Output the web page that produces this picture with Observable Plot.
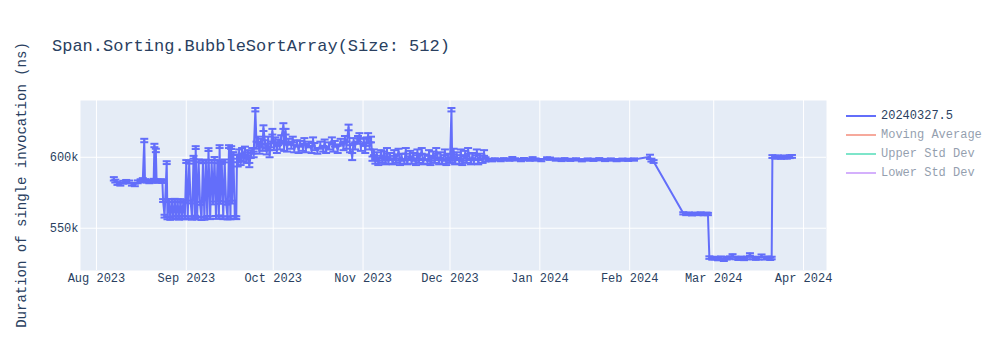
<!DOCTYPE html>
<html>
<head>
<meta charset="utf-8">
<script src="https://cdn.jsdelivr.net/npm/d3@7"></script>
<script src="https://cdn.jsdelivr.net/npm/@observablehq/plot@0.6"></script>
<style>
  body { margin: 0; background: #fff; }
  #wrap { position: relative; width: 1000px; height: 350px; font-family: "Liberation Mono", "DejaVu Sans Mono", monospace; }
  #chart { position: absolute; left: 0; top: 0; }
  #title { position: absolute; left: 52px; top: 38px; font-size: 17px; line-height: 17px; color: #2a3f5f; white-space: pre; }
  #ylabel { position: absolute; left: 22px; top: 185px; transform: translate(-50%, -50%) rotate(-90deg); font-size: 14px; line-height: 14px; color: #2a3f5f; white-space: pre; }
  #legend { position: absolute; left: 846px; top: 106px; font-size: 12px; color: #2a3f5f; }
  .item { display: flex; align-items: center; height: 19px; white-space: pre; }
  .swatch { width: 30px; height: 2px; margin-right: 5px; }
</style>
</head>
<body>
<div id="wrap">
  <div id="chart"></div>
  <div id="title"></div>
  <div id="ylabel"></div>
  <div id="legend"></div>
</div>
<script>
// ---------- data ----------
const chartTitle = "Span.Sorting.BubbleSortArray(Size: 512)";
const yAxisTitle = "Duration of single invocation (ns)";
const legendLabels = ["20240327.5", "Moving Average", "Upper Std Dev", "Lower Std Dev"];
const xTickDates = ["2023-08-01","2023-09-01","2023-10-01","2023-11-01","2023-12-01","2024-01-01","2024-02-01","2024-03-01","2024-04-01"];
const yTickValues = [550000, 600000];

const runDates = [
  // Aug plateau
  "2023-08-07 00","2023-08-07 12","2023-08-08 06","2023-08-09 06","2023-08-10 06","2023-08-11 06","2023-08-12 06","2023-08-13 06","2023-08-14 06","2023-08-15 06",
  "2023-08-16 06","2023-08-17 00","2023-08-17 12","2023-08-17 18","2023-08-18 06","2023-08-19 06","2023-08-20 06","2023-08-20 18","2023-08-21 00","2023-08-21 06",
  "2023-08-21 12","2023-08-21 18","2023-08-22 06","2023-08-23 06","2023-08-23 18",
  // late Aug
  "2023-08-24 00","2023-08-24 12","2023-08-25 06","2023-08-25 12","2023-08-26 00","2023-08-26 12","2023-08-27 00","2023-08-27 12","2023-08-28 00","2023-08-28 12",
  "2023-08-29 00","2023-08-29 12","2023-08-30 00","2023-08-30 12","2023-08-31 00","2023-08-31 12",
  // Sep oscillation
  "2023-09-01 00","2023-09-01 12",
  "2023-09-02 00","2023-09-02 12",
  "2023-09-03 00","2023-09-03 12",
  "2023-09-04 00","2023-09-04 06","2023-09-04 18",
  "2023-09-05 06","2023-09-05 18",
  "2023-09-06 06","2023-09-06 18",
  "2023-09-07 06","2023-09-07 18",
  "2023-09-08 06","2023-09-08 16",
  "2023-09-09 06","2023-09-09 18",
  "2023-09-10 06","2023-09-10 18",
  "2023-09-11 06","2023-09-11 18",
  "2023-09-12 06","2023-09-12 12","2023-09-12 18",
  "2023-09-13 06","2023-09-13 18",
  "2023-09-14 06","2023-09-14 18",
  "2023-09-15 06","2023-09-15 18",
  "2023-09-16 06","2023-09-16 12","2023-09-16 18",
  "2023-09-17 06","2023-09-17 18",
  // Sep transition
  "2023-09-18 06","2023-09-18 12","2023-09-18 18","2023-09-19 06","2023-09-19 18","2023-09-20 06","2023-09-20 18","2023-09-21 06","2023-09-21 18","2023-09-22 06",
  "2023-09-22 18","2023-09-23 06","2023-09-23 18","2023-09-24 06","2023-09-24 20",
  // Oct high band
  "2023-09-25 06","2023-09-25 18","2023-09-26 06","2023-09-26 18","2023-09-27 06","2023-09-27 15","2023-09-28 06","2023-09-28 18","2023-09-29 06","2023-09-29 18",
  "2023-09-30 06","2023-09-30 17","2023-10-01 06","2023-10-01 18","2023-10-02 06","2023-10-02 18","2023-10-03 06","2023-10-03 18","2023-10-04 12","2023-10-04 18",
  "2023-10-05 06","2023-10-05 18","2023-10-06 06","2023-10-07 06","2023-10-07 18","2023-10-08 06","2023-10-09 06","2023-10-09 18","2023-10-10 06","2023-10-11 06",
  "2023-10-11 18","2023-10-12 06","2023-10-13 06","2023-10-14 06","2023-10-14 18","2023-10-15 06","2023-10-16 06","2023-10-17 06","2023-10-18 06","2023-10-18 18",
  "2023-10-19 06","2023-10-20 06","2023-10-21 06","2023-10-21 18","2023-10-22 06","2023-10-23 06","2023-10-24 06","2023-10-25 06","2023-10-25 18","2023-10-26 06",
  "2023-10-27 00","2023-10-27 12","2023-10-28 06","2023-10-28 18","2023-10-29 06","2023-10-30 06","2023-10-30 18","2023-10-31 06","2023-11-01 06","2023-11-01 18",
  "2023-11-02 06","2023-11-02 18","2023-11-03 06","2023-11-03 18",
  // Nov band
  "2023-11-04 06","2023-11-04 18","2023-11-05 06","2023-11-05 18","2023-11-06 06","2023-11-07 06","2023-11-07 18","2023-11-08 06","2023-11-08 18","2023-11-09 06",
  "2023-11-09 18","2023-11-10 06","2023-11-11 06","2023-11-11 18","2023-11-12 06","2023-11-13 06","2023-11-13 18","2023-11-14 06","2023-11-15 06","2023-11-15 18",
  "2023-11-16 06","2023-11-17 06","2023-11-17 18","2023-11-18 06","2023-11-19 06","2023-11-19 18","2023-11-20 06","2023-11-21 06","2023-11-21 18","2023-11-22 06",
  "2023-11-23 06","2023-11-23 18","2023-11-24 06","2023-11-25 06","2023-11-25 18","2023-11-26 06","2023-11-27 06","2023-11-27 18","2023-11-28 06","2023-11-29 06",
  "2023-11-29 18","2023-11-30 06","2023-12-01 00","2023-12-01 12","2023-12-01 18","2023-12-02 06","2023-12-02 18","2023-12-03 06","2023-12-04 06","2023-12-04 18",
  "2023-12-05 06","2023-12-06 06","2023-12-06 18","2023-12-07 06","2023-12-08 06","2023-12-08 18","2023-12-09 06","2023-12-10 06","2023-12-10 18","2023-12-11 06",
  "2023-12-12 06","2023-12-12 18","2023-12-13 06",
  // Dec - Feb flat
  "2023-12-14 12","2023-12-15 12","2023-12-16 12","2023-12-18 12","2023-12-19 12","2023-12-21 12","2023-12-22 12","2023-12-23 12","2023-12-25 12","2023-12-26 12",
  "2023-12-28 12","2023-12-29 12","2023-12-30 12","2024-01-01 12","2024-01-03 12","2024-01-04 12","2024-01-06 12","2024-01-08 12","2024-01-09 12","2024-01-11 12",
  "2024-01-13 12","2024-01-15 12","2024-01-17 12","2024-01-19 12","2024-01-21 12","2024-01-23 12","2024-01-25 12","2024-01-27 12","2024-01-29 12","2024-01-31 12",
  "2024-02-02 12",
  // Feb
  "2024-02-08 00","2024-02-08 12","2024-02-09 06",
  "2024-02-19 12","2024-02-20 12","2024-02-21 12","2024-02-22 12","2024-02-23 12","2024-02-24 12","2024-02-25 12","2024-02-26 12","2024-02-27 12","2024-02-28 00",
  // Mar low
  "2024-02-28 12","2024-02-29 12","2024-03-01 12","2024-03-02 12","2024-03-03 12","2024-03-04 12","2024-03-05 12","2024-03-06 12","2024-03-07 12","2024-03-08 12",
  "2024-03-09 12","2024-03-10 12","2024-03-11 12","2024-03-12 12","2024-03-13 12","2024-03-14 12","2024-03-15 12","2024-03-16 12","2024-03-17 12","2024-03-18 12",
  "2024-03-19 12","2024-03-20 12","2024-03-21 00",
  // late Mar
  "2024-03-21 06","2024-03-22 06","2024-03-23 06","2024-03-24 06","2024-03-25 06","2024-03-26 06","2024-03-27 06","2024-03-28 00"
];

const durations = [
  // Aug plateau
  584800,583200,581500,580900,582400,583100,582600,581000,580500,582700,
  583500,584300,611800,583600,583000,582700,583300,583800,608300,583200,
  604800,583400,583000,583600,582900,
  // late Aug
  569500,558500,596200,557300,569600,556900,569300,557400,569700,557800,
  569200,557000,569500,557600,569000,557200,
  // Sep oscillation
  597000,557500,
  596500,568500,
  557000,600000,
  557800,606800,557200,
  597500,567500,
  556800,596800,
  557000,597300,
  557600,605400,
  557400,597100,
  567800,599200,
  557600,596800,
  558000,607500,568200,
  596300,557400,
  597400,567600,
  557200,607500,
  557300,606800,568400,
  602600,557500,
  // Sep transition
  557400,600500,595000,603500,596000,604500,598500,605500,597500,603000,
  594500,601500,604500,602000,633500,
  // Oct high band
  608500,612500,605000,611000,607000,620500,609500,604000,612000,602500,
  609000,618000,607500,612000,605500,610500,608000,613500,622000,607000,
  618000,606500,611000,608500,612500,606000,610000,605500,609500,607000,
  611500,606000,609000,605500,612000,607500,604500,608500,606000,610000,
  605000,608000,612000,606500,609500,605500,611000,607500,613000,608500,
  621000,606000,600500,611500,608000,613000,615000,607000,611500,605500,
  612000,615000,608000,612500,
  // Nov band
  599000,603500,597000,601500,596000,603000,597500,602000,596500,604500,
  597000,601000,596500,603000,597500,604000,596000,600500,597000,604500,
  596500,602500,597000,601000,596000,603500,597500,604500,596500,600000,
  597000,603000,596000,602000,597500,604500,596500,601500,597000,603500,
  596000,600500,597500,633500,598000,604000,596500,601500,597000,603500,
  596000,602500,597500,604500,596500,601000,597000,603500,596500,600500,
  597500,603000,598500,
  // Dec - Feb flat
  598200,597900,598500,598000,598600,598300,599400,598500,598000,598700,
  598300,599300,598400,598000,599200,599000,598400,598100,598600,598200,
  598500,597900,598400,598200,598600,598100,598400,598000,598300,598200,
  598400,
  // Feb
  600300,598000,597000,
  560500,560000,560300,559800,560200,560000,560400,559900,560200,560000,
  // Mar low
  529300,528700,529000,528300,529200,527800,528800,529300,530800,529000,
  528500,529100,528400,529000,531500,529000,528600,528900,530600,528800,
  529200,528500,529000,
  // late Mar
  600500,600000,600300,599900,600200,600000,600400,600600
];

const stdDevs = [
  // Aug plateau
  1200,1000,1000,900,1000,900,1000,1000,900,1000,
  1000,1000,1200,1000,900,1000,1000,1000,1200,1000,
  1200,1000,900,1000,1000,
  // late Aug
  1000,1000,1000,1000,1000,1000,1000,1000,1000,1000,
  1000,1000,1000,1000,1000,1000,
  // Sep oscillation
  1000,1000,
  1000,1000,
  1000,1000,
  1000,1000,1000,
  1000,1000,
  1000,1000,
  1000,1000,
  1000,1000,
  1000,1000,
  1000,1000,
  1000,1000,
  1000,1000,1000,
  1000,1000,
  1000,1000,
  1000,1000,
  1000,1000,1000,
  1000,1000,
  // Sep transition
  1000,1500,1500,2000,1500,2000,1500,2000,1500,2000,
  1500,2000,2000,2000,1200,
  // Oct high band
  2500,2000,2500,2000,2500,2000,2500,2000,2500,2500,
  2000,2000,2500,2000,2500,2000,2500,2000,2000,2500,
  2000,2500,2000,2500,2000,2500,2000,2500,2000,2500,
  2000,2500,2000,2500,2000,2500,2000,2500,2000,2500,
  2000,2500,2000,2500,2000,2500,2000,2500,2000,2500,
  2000,2500,2500,2000,2500,2000,2000,2500,2000,2500,
  2000,2000,2500,2000,
  // Nov band
  1500,2000,1500,2000,1500,2000,1500,2000,1500,2000,
  1500,2000,1500,2000,1500,2000,1500,2000,1500,2000,
  1500,2000,1500,2000,1500,2000,1500,2000,1500,2000,
  1500,2000,1500,2000,1500,2000,1500,2000,1500,2000,
  1500,2000,1500,1200,1500,2000,1500,2000,1500,2000,
  1500,2000,1500,2000,1500,2000,1500,2000,1500,2000,
  1500,2000,1500,
  // Dec - Feb flat
  800,800,800,800,800,800,800,800,800,800,
  800,800,800,800,800,800,800,800,800,800,
  800,800,800,800,800,800,800,800,800,800,
  800,
  // Feb
  1500,1000,1000,
  800,800,800,800,800,800,800,800,800,800,
  // Mar low
  900,900,900,900,900,900,900,900,900,900,
  900,900,900,900,900,900,900,900,900,900,
  900,900,900,
  // late Mar
  1000,1000,1000,1000,1000,1000,1000,1000
];

// ---------- build ----------
if (runDates.length !== durations.length || durations.length !== stdDevs.length) {
  throw new Error("length mismatch " + runDates.length + " " + durations.length + " " + stdDevs.length);
}
const parseRun = d3.utcParse("%Y-%m-%d %H");
const runs = runDates.map((d, i) => ({date: parseRun(d), value: durations[i], std: stdDevs[i]}));
const xTicks = xTickDates.map(d => d3.utcParse("%Y-%m-%d")(d));

const traceColor = "#636efa";
const capSymbol = {draw(ctx) { ctx.moveTo(-4, 0); ctx.lineTo(4, 0); }};

const chart = Plot.plot({
  width: 1000,
  height: 350,
  marginLeft: 80,
  marginRight: 174,
  marginTop: 100,
  marginBottom: 80,
  style: {fontFamily: "'Liberation Mono', 'DejaVu Sans Mono', monospace", fontSize: "12px", color: "#2a3f5f", background: "transparent"},
  x: {
    type: "utc",
    domain: [new Date("2023-07-26T12:00:00Z"), new Date("2024-04-08T22:00:00Z")],
    ticks: xTicks,
    tickFormat: d3.utcFormat("%b %Y"),
    tickSize: 0,
    tickPadding: 3,
    label: null
  },
  y: {
    domain: [520200, 640000],
    ticks: yTickValues,
    tickFormat: d3.format("~s"),
    tickSize: 0,
    tickPadding: 2,
    label: null
  },
  marks: [
    Plot.frame({fill: "#e5ecf6", stroke: "none"}),
    Plot.ruleX(xTicks, {x: d => d, stroke: "#ffffff", strokeWidth: 1}),
    Plot.ruleY(yTickValues, {y: d => d, stroke: "#ffffff", strokeWidth: 1}),
    Plot.ruleX(runs, {x: "date", y1: d => d.value - d.std, y2: d => d.value + d.std, stroke: traceColor, strokeWidth: 2}),
    Plot.dot(runs, {x: "date", y: d => d.value + d.std, symbol: capSymbol, fill: "none", stroke: traceColor, strokeWidth: 2}),
    Plot.dot(runs, {x: "date", y: d => d.value - d.std, symbol: capSymbol, fill: "none", stroke: traceColor, strokeWidth: 2}),
    Plot.line(runs, {x: "date", y: "value", stroke: traceColor, strokeWidth: 2})
  ]
});
document.getElementById("chart").appendChild(chart);

document.getElementById("title").textContent = chartTitle;
document.getElementById("ylabel").textContent = yAxisTitle;

const legendColors = [traceColor, "#EF553B", "#00CC96", "#AB63FA"];
const legendVisible = [true, false, false, false];
const legend = document.getElementById("legend");
legendLabels.forEach((label, i) => {
  const item = document.createElement("div");
  item.className = "item";
  if (!legendVisible[i]) item.style.opacity = 0.5;
  const sw = document.createElement("div");
  sw.className = "swatch";
  sw.style.background = legendColors[i];
  const tx = document.createElement("span");
  tx.textContent = label;
  item.appendChild(sw);
  item.appendChild(tx);
  legend.appendChild(item);
});
</script>
</body>
</html>
